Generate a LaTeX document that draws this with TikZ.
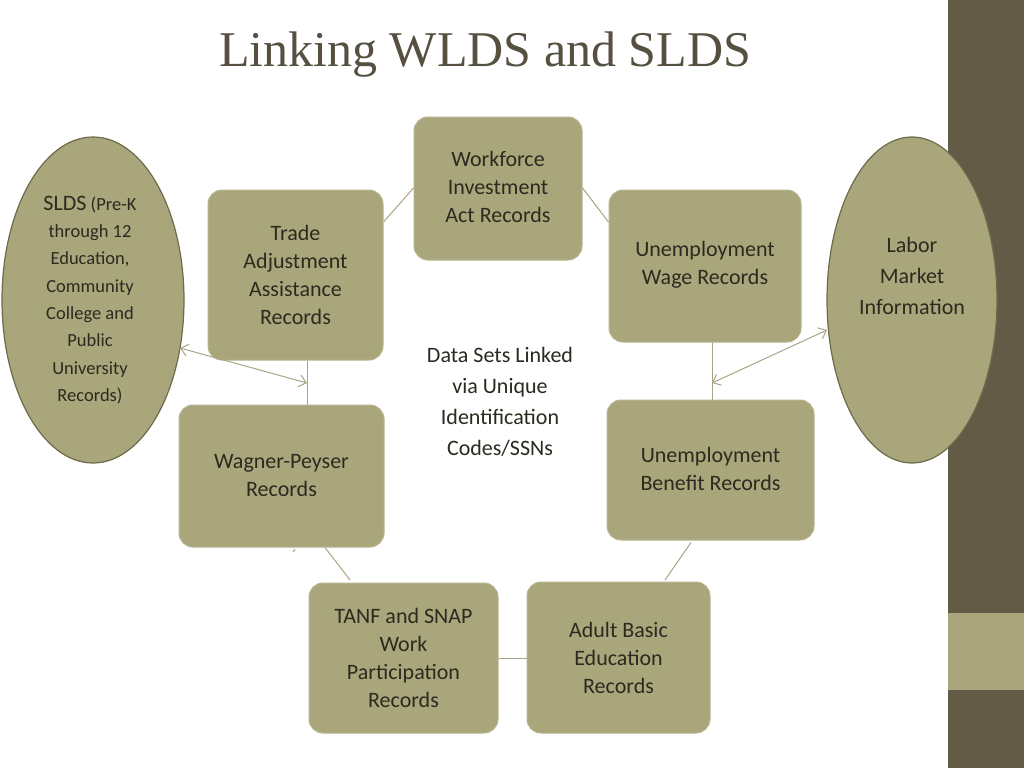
\documentclass[tikz,border=0pt]{standalone}
\usepackage{fontspec}
\setmainfont{Carlito}
\newfontfamily\titlefont{Liberation Serif}
\usetikzlibrary{arrows.meta}
\definecolor{boxfill}{HTML}{A9A67C}
\definecolor{boxedge}{HTML}{B8B590}
\definecolor{elledge}{HTML}{6E6A4C}
\definecolor{txt}{HTML}{2B2A1F}
\definecolor{bar}{HTML}{645B47}
\definecolor{barlight}{HTML}{A9A57C}
\definecolor{lnk}{HTML}{A8A585}
\definecolor{ttl}{HTML}{555040}
\tikzset{
 x=1pt,y=-1pt,
 rbox/.style={draw=boxedge,line width=1pt,fill=boxfill,rounded corners=14pt,inner sep=0pt},
 ell/.style={draw=elledge,line width=1.2pt,fill=boxfill},
 lbl/.style={text=txt,align=center,font=\fontsize{22}{28}\selectfont,inner sep=0pt},
 con/.style={draw=lnk,line width=1pt},
 arr/.style={draw=lnk,line width=1pt,{Straight Barb[length=7pt,width=12pt]}-{Straight Barb[length=7pt,width=12pt]}}
}
\begin{document}
\begin{tikzpicture}
\useasboundingbox (0,0) rectangle (1024,768);
\fill[white] (0,0) rectangle (1024,768);
\fill[bar] (948,0) rectangle (1024,768);
\fill[barlight] (948,613) rectangle (1024,690);
\node[anchor=center,text=ttl,font=\titlefont\fontsize{50}{56}\selectfont] (title) at (485,55) {Linking WLDS and SLDS};
% ellipses
\draw[ell] (93,300) ellipse [x radius=91,y radius=163];
\node (slds) at (93,300) [minimum width=182,minimum height=326,inner sep=0] {};
\draw[ell] (912,300) ellipse [x radius=85,y radius=163];
\node (lmi) at (912,300) [minimum width=170,minimum height=326,inner sep=0] {};
% boxes
\node[rbox,minimum width=168,minimum height=143] (wia) at (498,188.5) {};
\node[rbox,minimum width=175,minimum height=170] (taa) at (295.5,275) {};
\node[rbox,minimum width=192,minimum height=152] (uwr) at (705,266) {};
\node[rbox,minimum width=205,minimum height=142] (wp) at (281.5,476) {};
\node[rbox,minimum width=207,minimum height=140] (ubr) at (710.5,470) {};
\node[rbox,minimum width=189,minimum height=150] (tanf) at (403.5,658) {};
\node[rbox,minimum width=183,minimum height=151] (abe) at (618.5,657.5) {};
% texts
\node[lbl] (t1) at (498,187) {Workforce\\Investment\\Act Records};
\node[lbl] (t2) at (295.5,274.5) {Trade\\Adjustment\\Assistance\\Records};
\node[lbl] (t3) at (705,265) {Unemployment\\Wage Records};
\node[lbl] (t4) at (281.5,475.5) {Wagner-Peyser\\Records};
\node[lbl] (t5) at (710.5,469) {Unemployment\\Benefit Records};
\node[lbl] (t6) at (403.5,657.5) {TANF and SNAP\\Work\\Participation\\Records};
\node[lbl] (t7) at (618.5,657.5) {Adult Basic\\Education\\Records};
\node[lbl,font=\fontsize{22}{31}\selectfont] (t8) at (500,402) {Data Sets Linked\\via Unique\\Identification\\Codes/SSNs};
\node[lbl,font=\fontsize{22}{31}\selectfont] (t9) at (912,276) {Labor\\Market\\Information};
\node[lbl,font=\fontsize{18.5}{27.3}\selectfont] (t10) at (90,300) {{\fontsize{22}{27}\selectfont SLDS} (Pre-K\\through 12\\Education,\\Community\\College and\\Public\\University\\Records)};
% connectors
\draw[con] (taa.east |- 0,222) -- (wia.west |- 0,188);
\draw[con] (wia.east |- 0,188) -- (uwr.west |- 0,222);
\draw[con] (307,0 |- taa.south) -- (307,0 |- wp.north);
\draw[con] (712,0 |- uwr.south) -- (712,0 |- ubr.north);
\draw[con] (691,0 |- ubr.south) ++(0,2) -- (665,580);
\draw[con] (tanf.east |- 0,658) -- (abe.west |- 0,658);
\draw[con] (350,580) -- (325,0 |- wp.south) ++(0,3);
\draw[con] (293,552) -- (295,549);
\coordinate (a1) at (307,383);
\coordinate (a2) at (712,383);
\draw[arr] (slds.center) ++(87,48) -- (a1);
\draw[arr] (lmi.center) ++(-85,30) -- (a2);
\end{tikzpicture}
\end{document}
